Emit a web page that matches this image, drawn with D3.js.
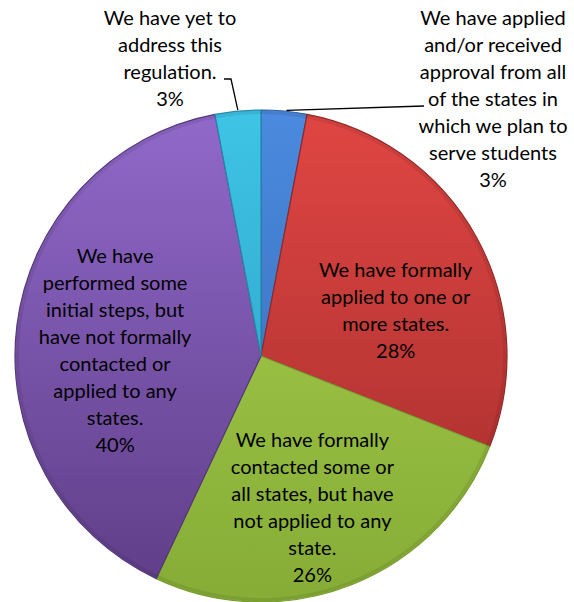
<!DOCTYPE html>
<html lang="en">
<head>
    <meta charset="UTF-8">
    <title>State authorization pie</title>
    <script src="https://d3js.org/d3.v7.min.js"></script>
    <style>
        body { margin: 0; background: #fff; }
        svg { display: block; }
        .lbl { font-family: Lato, "Open Sans", sans-serif; font-size: 20px; fill: #000; }
    </style>
</head>
<body>
<script>
    // data, clockwise from 12 o'clock
    const labels = [
        "We have applied\nand/or received\napproval from all\nof the states in\nwhich we plan to\nserve students",
        "We have formally\napplied to one or\nmore states.",
        "We have formally\ncontacted some or\nall states, but have\nnot applied to any\nstate.",
        "We have\nperformed some\ninitial steps, but\nhave not formally\ncontacted or\napplied to any\nstates.",
        "We have yet to\naddress this\nregulation."
    ];
    const values = [3, 28, 26, 40, 3];
    const topColors = ["#4b8ade", "#e04643", "#aad24e", "#9169ca", "#3ec4e6"];
    const bottomColors = ["#3466b0", "#a02c2b", "#86ac36", "#5e3d86", "#2898bc"];

    const width = 574, height = 602;
    const cx = 261, cy = 356, radius = 246;
    const lineH = 27;

    const svg = d3.select("body").append("svg")
        .attr("width", width)
        .attr("height", height);

    const defs = svg.append("defs");
    topColors.forEach((c, i) => {
        const g = defs.append("linearGradient")
            .attr("id", "grad" + i)
            .attr("gradientUnits", "userSpaceOnUse")
            .attr("x1", 0).attr("y1", -radius)
            .attr("x2", 0).attr("y2", radius);
        g.append("stop").attr("offset", 0).attr("stop-color", c);
        g.append("stop").attr("offset", 1).attr("stop-color", bottomColors[i]);
    });

    const pie = d3.pie().sort(null).value(d => d);
    const arcs = pie(values);
    const arc = d3.arc().innerRadius(0).outerRadius(radius);

    const g = svg.append("g").attr("transform", `translate(${cx},${cy})`);

    g.selectAll("path.slice")
        .data(arcs)
        .enter().append("path")
        .attr("class", "slice")
        .attr("d", arc)
        .attr("fill", (d, i) => `url(#grad${i})`)
        .attr("stroke", (d, i) => d3.rgb(bottomColors[i]).darker(0.3))
        .attr("stroke-width", 1.2)
        .attr("stroke-linejoin", "round");

    // soft darker rim
    g.selectAll("path.bevel")
        .data(arcs)
        .enter().append("path")
        .attr("class", "bevel")
        .attr("d", d3.arc().innerRadius(radius - 4).outerRadius(radius - 1))
        .attr("fill", "#000")
        .attr("opacity", 0.08);

    // label placement: inside = [angle offset (rad), distance]; outside = [x, first line y]
    const inside = { 1: [0.18, 142], 2: [0.05, 160], 3: [-0.09, 146] };
    const outside = { 0: [493, 18], 4: [170, 18] };

    function drawLabel(x, yTop, text, pct) {
        const lines = text.split("\n").concat([pct + "%"]);
        const t = svg.append("text").attr("class", "lbl").attr("text-anchor", "middle");
        lines.forEach((ln, k) => {
            t.append("tspan").attr("x", x).attr("y", yTop + k * lineH).attr("dy", "0.35em").text(ln);
        });
    }

    arcs.forEach((d, i) => {
        if (inside[i]) {
            const a = (d.startAngle + d.endAngle) / 2 + inside[i][0];
            const r = inside[i][1];
            const x = cx + r * Math.sin(a), y = cy - r * Math.cos(a);
            const n = labels[i].split("\n").length + 1;
            drawLabel(x, y - (n - 1) * lineH / 2, labels[i], values[i]);
        } else {
            drawLabel(outside[i][0], outside[i][1], labels[i], values[i]);
        }
    });

    // leader lines
    function edgePoint(d, frac) {
        const a = d.startAngle + (d.endAngle - d.startAngle) * frac;
        return [cx + radius * Math.sin(a), cy - radius * Math.cos(a)];
    }
    const pBlue = edgePoint(arcs[0], 0.55);
    svg.append("path")
        .attr("d", d3.line()([[pBlue[0], pBlue[1] - 1], [424, 106]]))
        .attr("fill", "none").attr("stroke", "#000").attr("stroke-width", 1.3);
    const pCyan = edgePoint(arcs[4], 0.5);
    svg.append("path")
        .attr("d", d3.line()([[224, 79], [231, 79], [pCyan[0], pCyan[1] - 1]]))
        .attr("fill", "none").attr("stroke", "#000").attr("stroke-width", 1.3);
</script>
</body>
</html>
